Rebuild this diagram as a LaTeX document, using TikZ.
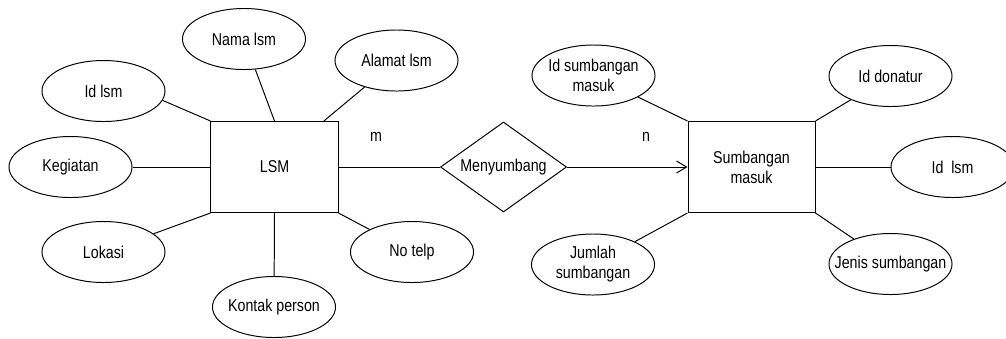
\documentclass[tikz,border=0pt]{standalone}
\usepackage{fontspec}
\setmainfont{Liberation Sans}[FakeStretch=0.83]
\usetikzlibrary{%
  arrows.meta,shapes.geometric}
\tikzset {>={Straight Barb[length=2.5mm,width=3mm]}}
\tikzset{entity/.style={draw,minimum width=3.175cm,minimum height=2.275cm,align=center},
  attr/.style={draw,ellipse,minimum width=3.075cm,minimum height=1.525cm,
    inner xsep=-25pt,inner ysep=0pt,align=center},
  rel/.style={draw,diamond,aspect=1.4,minimum width=3.15cm,minimum height=2.25cm,inner sep=0pt}}

\begin{document}
\begin{tikzpicture}[x=0.025cm,y=-0.025cm,line width=0.7pt,
  font=\fontsize{12.2}{14.2}\selectfont]
\useasboundingbox (0,0) rectangle (1006,338);
\node[entity] (lsm) at (274.5,167) {LSM};
\node[attr] (idlsm) at (103.5,91) {Id lsm};
\node[attr] (nama) at (244,39) {Nama lsm};
\node[attr] (alamat) at (396.5,60.5) {Alamat lsm};
\node[attr] (kegiatan) at (70.5,167) {Kegiatan};
\node[attr] (lokasi) at (103.5,252) {Lokasi};
\node[attr] (kontak) at (274,307) {Kontak person};
\node[attr] (notelp) at (412,252) {No telp};
\node[rel] (menyumbang) at (503.5,167) {Menyumbang};
\node[entity] (sumbangan) at (751.5,167) {Sumbangan\\masuk};
\node[attr] (idsumb) at (593.5,75.5) {Id sumbangan\\masuk};
\node[attr] (iddonatur) at (890.5,76) {Id donatur};
\node[attr] (idlsm2) at (952.5,167) {Id\ \ lsm};
\node[attr] (jenis) at (890.5,264) {Jenis sumbangan};
\node[attr] (jumlah) at (593,264.5) {Jumlah\\sumbangan};
\node (m) at (376,137) {m};
\node (n) at (646,137) {n};
\draw (idlsm.-9) -- (lsm.north west);
\draw (nama) -- (lsm.north);
\draw (alamat) -- (lsm.43);
\draw (kegiatan) -- (lsm.west);
\draw (lokasi) -- (lsm.south west);
\draw (kontak) -- (lsm.south);
\draw (notelp) -- (lsm.south east);
\draw (lsm.east) -- (menyumbang.west);
\draw[->] (menyumbang.east) -- (sumbangan.west);
\draw (idsumb) -- (sumbangan.north west);
\draw (iddonatur) -- (sumbangan.north east);
\draw (idlsm2) -- (sumbangan.east);
\draw (jenis) -- (sumbangan.south east);
\draw (jumlah) -- (sumbangan.south west);
\end{tikzpicture}
\end{document}
